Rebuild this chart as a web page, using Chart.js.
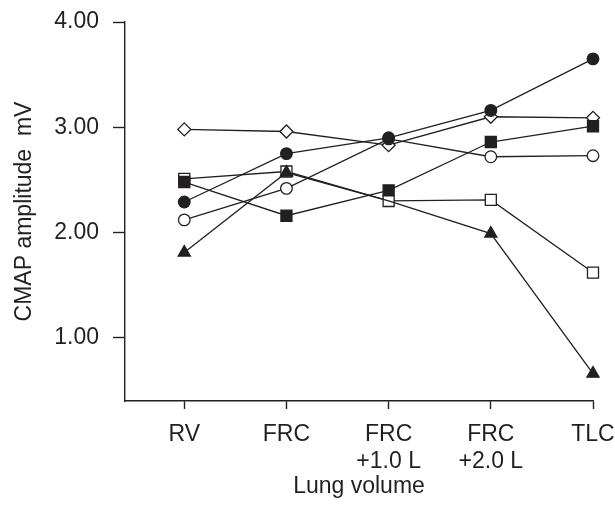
<!DOCTYPE html>
<html>
<head>
<meta charset="utf-8">
<script src="https://cdn.jsdelivr.net/npm/chart.js@4.4.1/dist/chart.umd.min.js"></script>
<style>
  html, body { margin: 0; padding: 0; background: #fff; }
</style>
</head>
<body>
<canvas id="cmapChart" width="615" height="506"></canvas>
<script>
// ---------------- DATA ----------------
// x axis categories (lung volume) and y tick values
const lungVolumes = ['RV', 'FRC', ['FRC', '+1.0 L'], ['FRC', '+2.0 L'], 'TLC'];
const yTickValues = [1, 2, 3, 4];

// CMAP amplitude (mV) per subject, one array per marker style
const filledTriangle = [1.81, 2.57, 2.30, 1.99, 0.66];
const filledSquare   = [2.48, 2.16, 2.40, 2.86, 3.01];
const openSquare     = [2.51, 2.58, 2.30, 2.31, 1.62];
const filledCircle   = [2.29, 2.75, 2.90, 3.16, 3.65];
const openCircle     = [2.12, 2.42, 2.89, 2.72, 2.73];
const openDiamond    = [2.98, 2.96, 2.83, 3.10, 3.09];

// ---------------- STYLE ----------------
const ink = '#231f20';
Chart.defaults.font.family = "'Liberation Sans', Arial, sans-serif";
Chart.defaults.color = ink;

// turns an array of values into points on the linear x axis (0 = RV ... 4 = TLC)
function toPoints(values) {
    return values.map((v, i) => ({ x: i, y: v }));
}

// one helper for each subject line, markers differ only by shape and fill
function subject(values, shape, filled, radius) {
    return {
        data: toPoints(values),
        borderColor: ink,
        borderWidth: 1.3,
        pointStyle: shape,
        pointRadius: radius,
        pointHoverRadius: radius,
        pointBackgroundColor: filled ? ink : '#ffffff',
        pointBorderColor: ink,
        pointBorderWidth: 1.3,
        fill: false,
        tension: 0,
        clip: false
    };
}

// keep the plot box fixed: no extra room for overhanging tick labels
function noLabelPadding(scale) {
    scale.paddingLeft = 0;
    scale.paddingRight = 0;
    scale.paddingTop = 0;
    scale.paddingBottom = 0;
}

const ctx = document.getElementById('cmapChart');

new Chart(ctx, {
    type: 'line',
    data: {
        // first dataset is drawn on top
        datasets: [
            // triangle at FRC +1.0 L sits behind the open square in the original
            subject(filledTriangle, 'triangle', true, [7, 7, 0, 7, 7]),
            subject(filledSquare, 'rect', true, 7.8),
            subject(openSquare, 'rect', false, 7.8),
            subject(filledCircle, 'circle', true, 5.8),
            subject(openCircle, 'circle', false, 5.8),
            subject(openDiamond, 'rectRot', false, 6.5)
        ]
    },
    options: {
        responsive: false,
        animation: false,
        events: [],
        layout: {
            padding: { top: 22, right: 22, left: 0, bottom: 0 }
        },
        plugins: {
            legend: { display: false },
            tooltip: { enabled: false }
        },
        scales: {
            x: {
                type: 'linear',
                min: -0.58,
                max: 4,
                afterBuildTicks: (scale) => {
                    scale.ticks = lungVolumes.map((_, i) => ({ value: i }));
                },
                afterFit: (scale) => {
                    scale.height = 105;
                    noLabelPadding(scale);
                },
                border: { display: true, color: ink, width: 1.4 },
                grid: {
                    drawOnChartArea: false,
                    drawTicks: true,
                    tickLength: 8,
                    tickColor: ink,
                    tickWidth: 1.4
                },
                ticks: {
                    autoSkip: false,
                    maxRotation: 0,
                    padding: 12,
                    color: ink,
                    font: { size: 23, lineHeight: 1.18 },
                    callback: (value) => lungVolumes[value]
                },
                title: {
                    display: true,
                    text: 'Lung volume',
                    color: ink,
                    font: { size: 23, lineHeight: 1.2 },
                    padding: { top: 0, bottom: 6 }
                }
            },
            y: {
                type: 'linear',
                min: 0.4,
                max: 4,
                afterBuildTicks: (scale) => {
                    scale.ticks = yTickValues.map(v => ({ value: v }));
                },
                afterFit: (scale) => {
                    scale.width = 125;
                    noLabelPadding(scale);
                },
                border: { display: true, color: ink, width: 1.4 },
                grid: {
                    drawOnChartArea: false,
                    drawTicks: true,
                    tickLength: 12,
                    tickColor: ink,
                    tickWidth: 1.4
                },
                ticks: {
                    padding: 14,
                    color: ink,
                    font: { size: 23 },
                    callback: (value) => value.toFixed(2)
                },
                title: {
                    display: true,
                    text: 'CMAP amplitude  mV',
                    color: ink,
                    font: { size: 23, lineHeight: 1.2 },
                    padding: { top: 11, bottom: 0 }
                }
            }
        }
    }
});
</script>
</body>
</html>
